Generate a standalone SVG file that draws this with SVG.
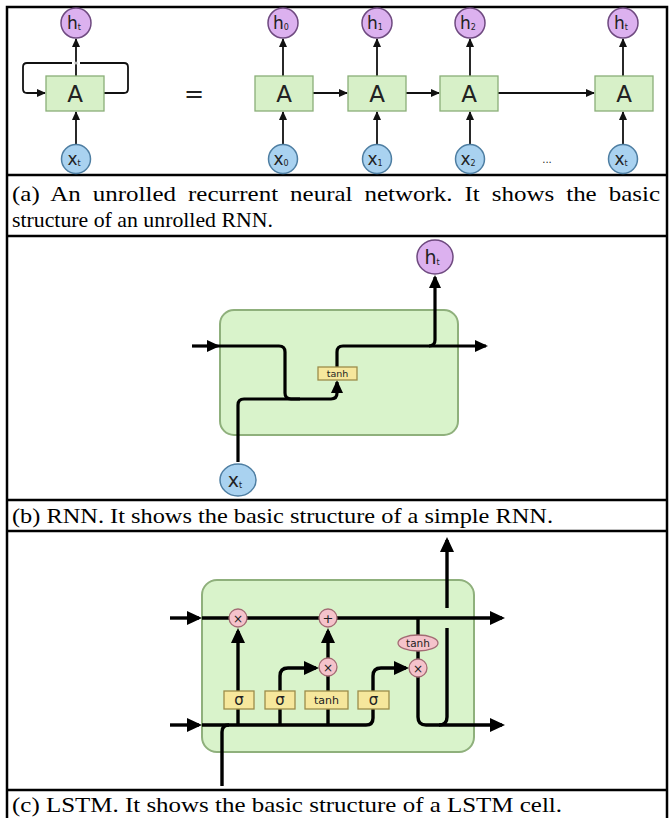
<svg xmlns="http://www.w3.org/2000/svg" width="672" height="818" viewBox="0 0 672 818">
<style>
.tbl{fill:none;stroke:#000;stroke-width:2.5}
.cap{font-family:"Liberation Serif","Times New Roman",serif;font-size:21.8px;fill:#000}
.box{fill:#d7f0c8;stroke:#8aae78;stroke-width:1.3}
.cell{fill:#d9f3cb;stroke:#8fb07c;stroke-width:2}
.hc{fill:#dcb1ef;stroke:#6f4a80;stroke-width:1.5}
.xc{fill:#a9d2f0;stroke:#4e7ea2;stroke-width:1.5}
.lbl{font-family:"DejaVu Sans","Liberation Sans",sans-serif;fill:#222;text-anchor:middle}
.sub{font-size:8px}
.la{fill:none;stroke:#111;stroke-width:1.8}
.lb{fill:none;stroke:#000;stroke-width:3.2}
.lc{fill:none;stroke:#000;stroke-width:3.4}
.ybox{fill:#f6e79c;stroke:#9c8d4a;stroke-width:1.3}
.pw{fill:#f5c3cb;stroke:#a36b74;stroke-width:1.3}
</style>
<defs>
<marker id="aS" markerUnits="userSpaceOnUse" markerWidth="9" markerHeight="8" refX="8" refY="4" orient="auto"><path d="M0,0 L9,4 L0,8 z" fill="#111"/></marker>
<marker id="aM" markerUnits="userSpaceOnUse" markerWidth="13" markerHeight="12" refX="11" refY="6" orient="auto"><path d="M0,0 L13,6 L0,12 z" fill="#000"/></marker>
<marker id="aL" markerUnits="userSpaceOnUse" markerWidth="15" markerHeight="14" refX="12" refY="7" orient="auto"><path d="M0,0 L15,7 L0,14 z" fill="#000"/></marker>
</defs>
<rect width="672" height="818" fill="#fff"/>

<!-- table -->
<g id="table">
<rect class="tbl" x="7" y="7" width="660" height="830"/>
<line class="tbl" x1="7" y1="175" x2="667" y2="175"/>
<line class="tbl" x1="7" y1="236" x2="667" y2="236"/>
<line class="tbl" x1="7" y1="500" x2="667" y2="500"/>
<line class="tbl" x1="7" y1="531" x2="667" y2="531"/>
<line class="tbl" x1="7" y1="790" x2="667" y2="790"/>
</g>

<!-- Panel (a) connectors -->
<g id="connectors-a">
<path class="la" d="M104,93 H124 Q128,93 128,89 V67 Q128,63 124,63 H27 Q23,63 23,67 V89 Q23,93 27,93 H45" marker-end="url(#aS)"/>
<line x1="72" y1="63" x2="80" y2="63" stroke="#fff" stroke-width="3"/>
<line class="la" x1="76" y1="76" x2="76" y2="39" marker-end="url(#aS)"/>
<circle cx="76" cy="63" r="1.6" fill="#bbb"/>
<line class="la" x1="76" y1="145" x2="76" y2="112" marker-end="url(#aS)"/>
<line class="la" x1="283" y1="76" x2="283" y2="39" marker-end="url(#aS)"/>
<line class="la" x1="283" y1="145" x2="283" y2="112" marker-end="url(#aS)"/>
<line class="la" x1="377" y1="76" x2="377" y2="39" marker-end="url(#aS)"/>
<line class="la" x1="377" y1="145" x2="377" y2="112" marker-end="url(#aS)"/>
<line class="la" x1="470" y1="76" x2="470" y2="39" marker-end="url(#aS)"/>
<line class="la" x1="470" y1="145" x2="470" y2="112" marker-end="url(#aS)"/>
<line class="la" x1="623" y1="76" x2="623" y2="39" marker-end="url(#aS)"/>
<line class="la" x1="623" y1="145" x2="623" y2="112" marker-end="url(#aS)"/>
<line class="la" x1="313" y1="93" x2="347" y2="93" marker-end="url(#aS)"/>
<line class="la" x1="406" y1="93" x2="439" y2="93" marker-end="url(#aS)"/>
<line class="la" x1="498" y1="93" x2="594" y2="93" marker-end="url(#aS)"/>
</g>

<!-- Panel (a) nodes -->
<g id="a-A">
<rect class="box" x="46" y="76" width="58" height="35"/>
<text class="lbl" x="75" y="102" font-size="23">A</text>
</g>
<g id="a-ht"><circle class="hc" cx="76" cy="23" r="15"/><text class="lbl" x="74" y="29" font-size="17">h<tspan class="sub" dy="1">t</tspan></text></g>
<g id="a-xt"><circle class="xc" cx="76" cy="159" r="14.5"/><text class="lbl" x="74" y="165" font-size="17">x<tspan class="sub" dy="1">t</tspan></text></g>
<g id="a-eq"><text class="lbl" x="194" y="102" font-size="24" fill="#333">=</text></g>

<g id="a-A0"><rect class="box" x="255" y="76" width="58" height="35"/><text class="lbl" x="284" y="102" font-size="23">A</text></g>
<g id="a-A1"><rect class="box" x="348" y="76" width="58" height="35"/><text class="lbl" x="377" y="102" font-size="23">A</text></g>
<g id="a-A2"><rect class="box" x="440" y="76" width="58" height="35"/><text class="lbl" x="469" y="102" font-size="23">A</text></g>
<g id="a-At"><rect class="box" x="595" y="76" width="58" height="35"/><text class="lbl" x="624" y="102" font-size="23">A</text></g>

<g id="a-h0"><circle class="hc" cx="283" cy="23" r="15"/><text class="lbl" x="281" y="29" font-size="17">h<tspan class="sub" dy="1">0</tspan></text></g>
<g id="a-h1"><circle class="hc" cx="377" cy="23" r="15"/><text class="lbl" x="375" y="29" font-size="17">h<tspan class="sub" dy="1">1</tspan></text></g>
<g id="a-h2"><circle class="hc" cx="470" cy="23" r="15"/><text class="lbl" x="468" y="29" font-size="17">h<tspan class="sub" dy="1">2</tspan></text></g>
<g id="a-ht2"><circle class="hc" cx="623" cy="23" r="15"/><text class="lbl" x="621" y="29" font-size="17">h<tspan class="sub" dy="1">t</tspan></text></g>

<g id="a-x0"><circle class="xc" cx="283" cy="159" r="14.5"/><text class="lbl" x="281" y="165" font-size="17">x<tspan class="sub" dy="1">0</tspan></text></g>
<g id="a-x1"><circle class="xc" cx="377" cy="159" r="14.5"/><text class="lbl" x="375" y="165" font-size="17">x<tspan class="sub" dy="1">1</tspan></text></g>
<g id="a-x2"><circle class="xc" cx="470" cy="159" r="14.5"/><text class="lbl" x="468" y="165" font-size="17">x<tspan class="sub" dy="1">2</tspan></text></g>
<g id="a-xt2"><circle class="xc" cx="623" cy="159" r="14.5"/><text class="lbl" x="621" y="165" font-size="17">x<tspan class="sub" dy="1">t</tspan></text></g>
<g id="a-dots"><text class="lbl" x="547" y="163" font-size="10" fill="#555">...</text></g>

<!-- Caption (a) -->
<g id="cap-a">
<text class="cap" x="12" y="201" word-spacing="5" textLength="648" lengthAdjust="spacingAndGlyphs">(a) An unrolled recurrent neural network. It shows the basic</text>
<text class="cap" x="12" y="227">structure of an unrolled RNN.</text>
</g>

<!-- Panel (b) -->
<g id="b-cell"><rect class="cell" x="220" y="310" width="238" height="125" rx="14"/></g>
<g id="connectors-b">
<line class="lb" x1="192" y1="346" x2="218" y2="346" marker-end="url(#aM)"/>
<path class="lb" d="M218,346 H279 Q285,346 285,352 V393 Q285,399 291,399 H300"/>
<path class="lb" d="M238,462 V405 Q238,399 244,399 H331 Q337,399 337,393 V382" marker-end="url(#aM)"/>
<path class="lb" d="M337,368 V352 Q337,346 343,346 H486" marker-end="url(#aM)"/>
<path class="lb" d="M429,346 Q435,346 435,340 V277" marker-end="url(#aM)"/>
</g>
<g id="b-tanh"><rect class="ybox" x="318" y="367" width="39" height="13"/><text class="lbl" x="337.5" y="377" font-size="9.5">tanh</text></g>
<g id="b-ht"><ellipse class="hc" cx="435" cy="257" rx="18" ry="17"/><text class="lbl" x="432" y="264" font-size="19">h<tspan class="sub" font-size="9" dy="1">t</tspan></text></g>
<g id="b-xt"><ellipse class="xc" cx="238" cy="480" rx="18" ry="16"/><text class="lbl" x="235" y="487" font-size="19">x<tspan class="sub" font-size="9" dy="1">t</tspan></text></g>

<g id="cap-b"><text class="cap" x="12" y="523" textLength="541" lengthAdjust="spacingAndGlyphs">(b) RNN. It shows the basic structure of a simple RNN.</text></g>

<!-- Panel (c) -->
<g id="c-cell"><rect class="cell" x="202" y="580" width="272" height="172" rx="15"/></g>
<g id="connectors-c">
<line class="lc" x1="170" y1="618" x2="199" y2="618" marker-end="url(#aL)"/>
<line class="lc" x1="202" y1="618" x2="502" y2="618" marker-end="url(#aL)"/>
<line class="lc" x1="170" y1="725" x2="199" y2="725" marker-end="url(#aL)"/>
<path class="lc" d="M202,725 H366 Q373,725 373,718 V709"/>
<path class="lc" d="M222,786 V732 Q222,725 229,725"/>
<line class="lc" x1="238" y1="725" x2="238" y2="709"/>
<line class="lc" x1="280" y1="725" x2="280" y2="709"/>
<line class="lc" x1="328" y1="725" x2="328" y2="709"/>
<line class="lc" x1="238" y1="691" x2="238" y2="631" marker-end="url(#aL)"/>
<path class="lc" d="M280,691 V676 Q280,668 288,668 H316" marker-end="url(#aL)"/>
<line class="lc" x1="328" y1="691" x2="328" y2="676"/>
<line class="lc" x1="328" y1="658" x2="328" y2="631" marker-end="url(#aL)"/>
<path class="lc" d="M373,691 V676 Q373,668 381,668 H406" marker-end="url(#aL)"/>
<line class="lc" x1="418" y1="618" x2="418" y2="636"/>
<line class="lc" x1="418" y1="650" x2="418" y2="660"/>
<path class="lc" d="M418,676 V717 Q418,725 426,725 H502" marker-end="url(#aL)"/>
<path class="lc" d="M439,725 Q447,725 447,717 V628"/>
<line class="lc" x1="447" y1="608" x2="447" y2="540" marker-end="url(#aL)"/>
</g>
<g id="c-mul1"><circle class="pw" cx="238" cy="618" r="9"/><text class="lbl" x="238" y="622.5" font-size="12" fill="#7a3b46">×</text></g>
<g id="c-add"><circle class="pw" cx="328" cy="618" r="9"/><text class="lbl" x="328" y="622.5" font-size="13" fill="#7a3b46">+</text></g>
<g id="c-mul2"><circle class="pw" cx="328" cy="667" r="9"/><text class="lbl" x="328" y="671.5" font-size="12" fill="#7a3b46">×</text></g>
<g id="c-mul3"><circle class="pw" cx="418" cy="668" r="9"/><text class="lbl" x="418" y="672.5" font-size="12" fill="#7a3b46">×</text></g>
<g id="c-tanh2"><ellipse class="pw" cx="418" cy="643" rx="20" ry="8"/><text class="lbl" x="418" y="647" font-size="10.5" fill="#6b3a44">tanh</text></g>
<g id="c-s1"><rect class="ybox" x="224" y="691" width="30" height="18"/><text class="lbl" x="239" y="705" font-size="15">σ</text></g>
<g id="c-s2"><rect class="ybox" x="265" y="691" width="30" height="18"/><text class="lbl" x="280" y="705" font-size="15">σ</text></g>
<g id="c-tanh"><rect class="ybox" x="305" y="691" width="43" height="18"/><text class="lbl" x="326.5" y="704" font-size="11">tanh</text></g>
<g id="c-s3"><rect class="ybox" x="358" y="691" width="31" height="18"/><text class="lbl" x="373.5" y="705" font-size="15">σ</text></g>

<g id="cap-c"><text class="cap" x="12" y="812" textLength="550" lengthAdjust="spacingAndGlyphs">(c) LSTM. It shows the basic structure of a LSTM cell.</text></g>
</svg>
